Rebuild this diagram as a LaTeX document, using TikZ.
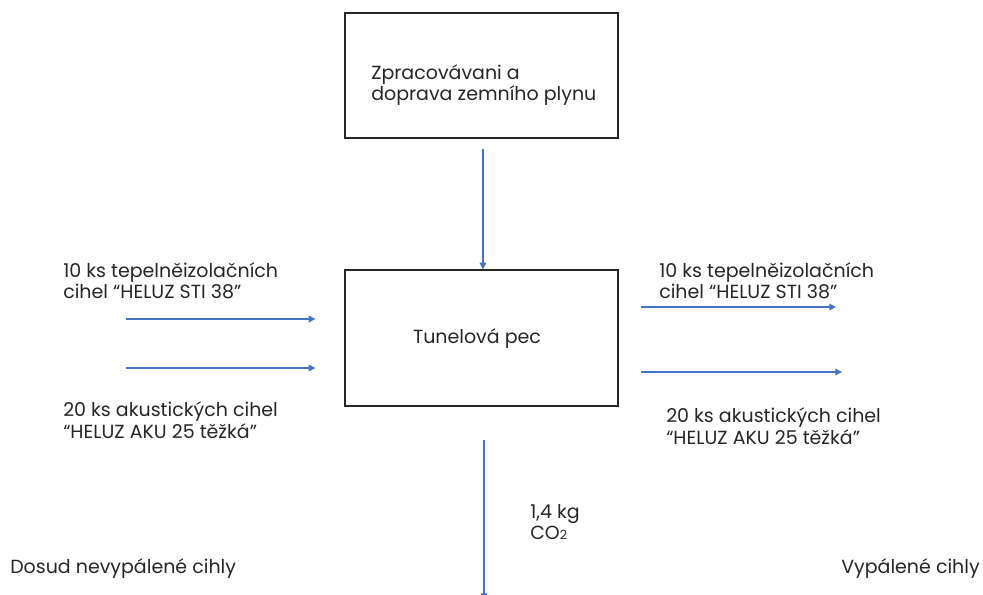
\documentclass[tikz,border=0pt]{standalone}
\usepackage{fontspec}
\setmainfont{Poppins}
\usepackage{xcolor}
\usetikzlibrary{arrows.meta,positioning}
\definecolor{Ink}{HTML}{262626}
\definecolor{Flow}{HTML}{4472C4}

\begin{document}
\begin{tikzpicture}[x=0.75pt,y=-0.75pt,>=Triangle,
  stage/.style={draw=Ink,line width=1pt,minimum width=204.75pt},
  flow/.style={Flow,line width=1pt,-{Triangle[length=5pt,width=5pt]}},
  txt/.style={font=\fontsize{14.25}{16}\selectfont,text=Ink,align=left,inner sep=0pt}]
  \useasboundingbox (0,0) rectangle (983,594);
  % boxes
  \node[stage,minimum height=93.75pt] (zprac) at (481.5,75.5) {};
  \node[txt,anchor=west] (zpractxt) at (371,85) {Zpracovávani a\\doprava zemního plynu};
  \node[stage,minimum height=102pt] (pec) at (481.5,338) {};
  \node[txt] (pectxt) at (477,339) {Tunelová pec};
  % inputs
  \node[txt,anchor=west] (inAtxt) at (63,281) {10 ks tepelněizolačních\\cihel “HELUZ STI 38”};
  \node[txt,anchor=west] (inBtxt) at (63,420) {20 ks akustických cihel\\“HELUZ AKU 25 těžká”};
  \coordinate (inA) at (126,319);
  \coordinate (inB) at (126,368);
  % outputs
  \node[txt,anchor=west] (outAtxt) at (659,281) {10 ks tepelněizolačních\\cihel “HELUZ STI 38”};
  \node[txt,anchor=west] (outBtxt) at (666,426) {20 ks akustických cihel\\“HELUZ AKU 25 těžká”};
  \coordinate (outA) at (836,307);
  \coordinate (outB) at (842,372);
  \node[txt,anchor=west] (co2) at (530,522) {1,4 kg\\CO{\fontsize{9.5}{9}\selectfont 2}};
  \coordinate (spaliny) at (484,600);
  % side captions
  \node[txt,anchor=west] (pred) at (10,569) {Dosud nevypálené cihly};
  \node[txt,anchor=east] (po) at (980,569) {Vypálené cihly};
  % flows
  \draw[flow,shorten <=7.5pt] ([xshift=1.1pt]zprac.south) -- ([xshift=1.1pt]pec.north);
  \draw[flow,shorten >=21.75pt] (inA) -- (inA -| pec.west);
  \draw[flow,shorten >=21.75pt] (inB) -- (inB -| pec.west);
  \draw[flow,shorten <=17pt] (pec.east |- outA) -- (outA);
  \draw[flow,shorten <=17pt] (pec.east |- outB) -- (outB);
  \draw[flow,shorten <=25pt] (pec.south -| spaliny) -- (spaliny);
\end{tikzpicture}
\end{document}
